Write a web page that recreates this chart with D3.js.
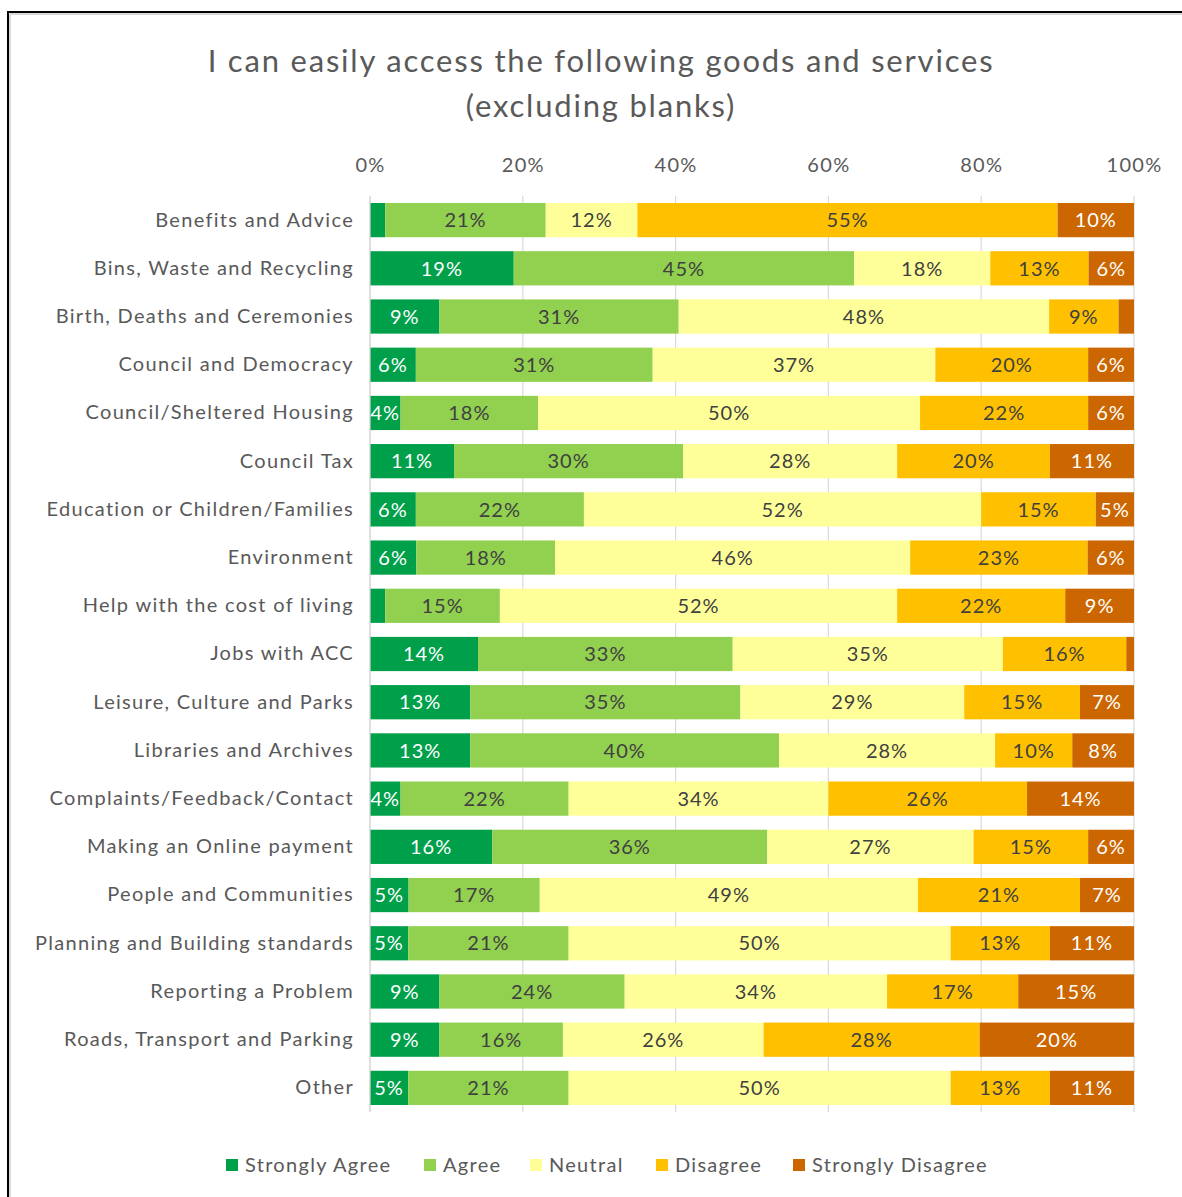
<!DOCTYPE html>
<html>
<head>
<meta charset="utf-8">
<script src="https://cdn.jsdelivr.net/npm/d3@7/dist/d3.min.js"></script>
<style>
  html, body { margin: 0; padding: 0; background: #fff; }
  svg { display: block; }
  text { font-family: Lato, "Open Sans", sans-serif; }
</style>
</head>
<body>
<svg id="chart" width="1182" height="1197"></svg>
<script>
// Survey responses per service (percent of respondents, blanks excluded)
const categories = [
  "Benefits and Advice",
  "Bins, Waste and Recycling",
  "Birth, Deaths and Ceremonies",
  "Council and Democracy",
  "Council/Sheltered Housing",
  "Council Tax",
  "Education or Children/Families",
  "Environment",
  "Help with the cost of living",
  "Jobs with ACC",
  "Leisure, Culture and Parks",
  "Libraries and Archives",
  "Complaints/Feedback/Contact",
  "Making an Online payment",
  "People and Communities",
  "Planning and Building standards",
  "Reporting a Problem",
  "Roads, Transport and Parking",
  "Other"
];
const seriesNames = ["Strongly Agree", "Agree", "Neutral", "Disagree", "Strongly Disagree"];
const stronglyAgree    = [2, 19, 9, 6, 4, 11, 6, 6, 2, 14, 13, 13, 4, 16, 5, 5, 9, 9, 5];
const agree            = [21, 45, 31, 31, 18, 30, 22, 18, 15, 33, 35, 40, 22, 36, 17, 21, 24, 16, 21];
const neutral          = [12, 18, 48, 37, 50, 28, 52, 46, 52, 35, 29, 28, 34, 27, 49, 50, 34, 26, 50];
const disagree         = [55, 13, 9, 20, 22, 20, 15, 23, 22, 16, 15, 10, 26, 15, 21, 13, 17, 28, 13];
const stronglyDisagree = [10, 6, 2, 6, 6, 11, 5, 6, 9, 1, 7, 8, 14, 6, 7, 11, 15, 20, 11];
const tickLabels = ["0%", "20%", "40%", "60%", "80%", "100%"];
const tickValues = [0, 0.2, 0.4, 0.6, 0.8, 1];

const colors = ["#00A04B", "#92D050", "#FFFF99", "#FFC000", "#CC6600"];
const labelColors = ["#ffffff", "#404040", "#404040", "#404040", "#ffffff"];

const svg = d3.select("#chart");

// Frame around the chart area
svg.append("line").attr("x1", 8).attr("y1", 12).attr("x2", 1182).attr("y2", 12)
  .attr("stroke", "#000").attr("stroke-width", 2);
svg.append("line").attr("x1", 8).attr("y1", 11).attr("x2", 8).attr("y2", 1197)
  .attr("stroke", "#000").attr("stroke-width", 2);
svg.append("line").attr("x1", 10).attr("y1", 14).attr("x2", 1182).attr("y2", 14)
  .attr("stroke", "#d9d9d9").attr("stroke-width", 2);
svg.append("line").attr("x1", 10).attr("y1", 14).attr("x2", 10).attr("y2", 1197)
  .attr("stroke", "#d9d9d9").attr("stroke-width", 2);

// Title
const title = svg.append("text")
  .attr("x", 601).attr("y", 72)
  .attr("text-anchor", "middle")
  .attr("fill", "#595959")
  .style("font-size", "31px")
  .style("letter-spacing", "1.8px");
title.append("tspan").attr("x", 601).text("I can easily access the following goods and services");
title.append("tspan").attr("x", 601).attr("dy", 45).text("(excluding blanks)");

// Row table built from the series arrays
const rows = categories.map((c, i) => {
  const vals = [stronglyAgree[i], agree[i], neutral[i], disagree[i], stronglyDisagree[i]];
  const total = d3.sum(vals);
  let acc = 0;
  return {
    category: c,
    segments: vals.map((v, k) => {
      const s = { key: seriesNames[k], k, value: v, x0: acc / total, x1: (acc + v) / total };
      acc += v;
      return s;
    })
  };
});

const x = d3.scaleLinear().domain([0, 1]).range([370, 1134]);
const y = d3.scaleBand().domain(categories).range([196, 1112])
  .paddingInner(0.29).paddingOuter(0.145);

// Gridlines
svg.append("g")
  .selectAll("line")
  .data(tickValues)
  .join("line")
  .attr("x1", d => x(d)).attr("x2", d => x(d))
  .attr("y1", 196).attr("y2", 1112)
  .attr("stroke", "#d9d9d9").attr("stroke-width", 1.2);

// Top axis tick labels
const xAxis = d3.axisTop(x).tickValues(tickValues)
  .tickFormat((d, i) => tickLabels[i]).tickSize(0).tickPadding(0);
const gx = svg.append("g").attr("transform", "translate(0,172)").call(xAxis);
gx.select(".domain").remove();
gx.selectAll("text").attr("fill", "#595959").style("font-size", "20px")
  .style("font-family", "Lato, sans-serif").style("letter-spacing", "1.3px");

// Category axis
const yAxis = d3.axisLeft(y).tickSize(0).tickPadding(0);
const gy = svg.append("g").attr("transform", "translate(354,0)").call(yAxis);
gy.select(".domain").remove();
gy.selectAll("text").attr("fill", "#595959").style("font-size", "20px")
  .style("font-family", "Lato, sans-serif").style("letter-spacing", "1.3px");

// Bars
const rowG = svg.append("g").selectAll("g")
  .data(rows).join("g")
  .attr("transform", d => `translate(0,${y(d.category)})`);

rowG.selectAll("rect")
  .data(d => d.segments)
  .join("rect")
  .attr("x", d => x(d.x0))
  .attr("width", d => x(d.x1) - x(d.x0))
  .attr("y", 0)
  .attr("height", y.bandwidth())
  .attr("fill", d => colors[d.k]);

rowG.selectAll("text")
  .data(d => d.segments.filter(s => s.value >= 3))
  .join("text")
  .attr("x", d => (x(d.x0) + x(d.x1)) / 2)
  .attr("y", y.bandwidth() / 2)
  .attr("dy", "0.36em")
  .attr("text-anchor", "middle")
  .attr("fill", d => labelColors[d.k])
  .style("font-size", "20px")
  .style("letter-spacing", "1px")
  .text(d => d.value + "%");

// 0% axis line
svg.append("line").attr("x1", x(0)).attr("x2", x(0)).attr("y1", 196).attr("y2", 1112)
  .attr("stroke", "#d9d9d9").attr("stroke-width", 1.2);

// Legend
const legendX = [226, 424, 530, 656, 793];
const legend = svg.append("g").selectAll("g")
  .data(seriesNames).join("g")
  .attr("transform", (d, i) => `translate(${legendX[i]},1165)`);
legend.append("rect").attr("x", 0).attr("y", -6).attr("width", 12).attr("height", 12)
  .attr("fill", (d, i) => colors[i]);
legend.append("text").attr("x", 19).attr("dy", "0.36em")
  .attr("fill", "#595959").style("font-size", "20px").style("letter-spacing", "1.3px")
  .text(d => d);
</script>
</body>
</html>
